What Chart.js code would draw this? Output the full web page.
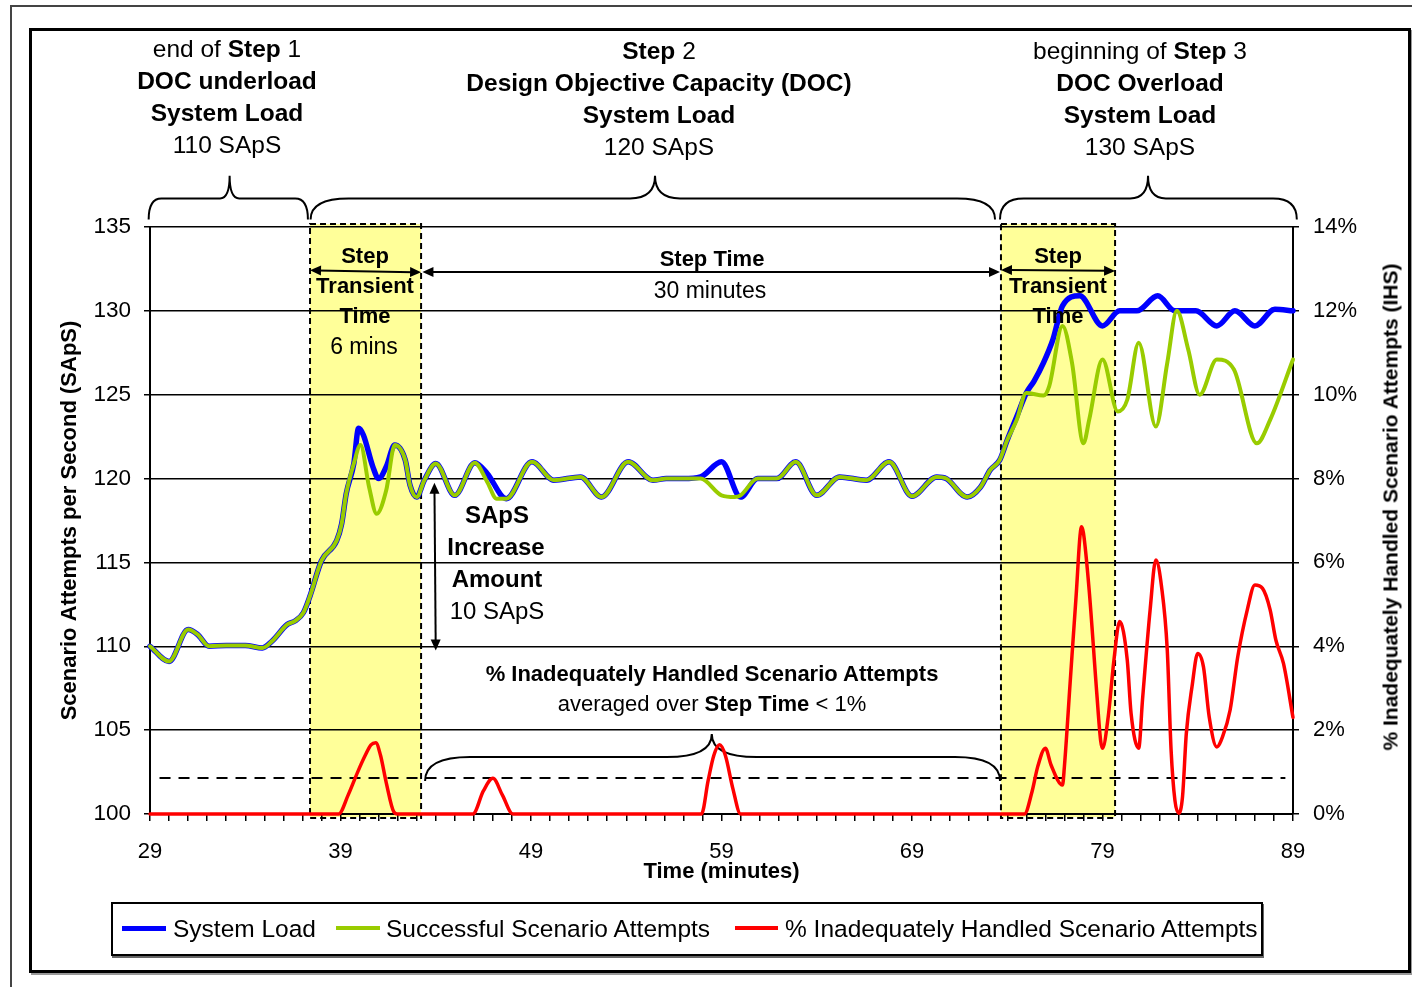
<!DOCTYPE html>
<html>
<head>
<meta charset="utf-8">
<title>Step load chart</title>
<script src="https://cdn.jsdelivr.net/npm/chart.js@4.4.1/dist/chart.umd.min.js"></script>
<style>
html,body{margin:0;padding:0;background:#fff;}
#wrap{position:relative;width:1412px;height:987px;overflow:hidden;font-family:"Liberation Sans",Arial,Helvetica,sans-serif;color:#000;}
#outer{position:absolute;left:10px;top:5px;width:1500px;height:1100px;border-left:2px solid #444;border-top:2px solid #444;}
#inner{position:absolute;left:29px;top:28px;width:1382px;height:945px;box-sizing:border-box;border:3px solid #000;box-shadow:2px 2px 0 #999;}
#chart{position:absolute;left:0;top:0;}
.t{position:absolute;transform:translate(-50%,-50%);white-space:nowrap;line-height:1;}
.b{font-weight:bold;}
#legend{position:absolute;left:111px;top:902px;width:1152px;height:54px;box-sizing:border-box;border:2px solid #000;box-shadow:1px 2px 0 #666;background:#fff;}
.sw{position:absolute;height:5px;}
.lt{position:absolute;font-size:24.5px;line-height:1;transform:translateY(-50%);white-space:nowrap;}
#ytitle2{position:absolute;left:1390px;top:507px;transform:translate(-50%,-50%) rotate(-90deg);font-weight:bold;font-size:21px;white-space:nowrap;line-height:1;}
</style>
</head>
<body>
<div id="wrap">
  <div id="outer"></div>
  <div id="inner"></div>
  <canvas id="chart" width="1412" height="987"></canvas>

  <div class="t" style="left:227px;top:49px;font-size:24.5px">end of <b>Step</b> 1</div>
  <div class="t b" style="left:227px;top:81px;font-size:24.5px">DOC underload</div>
  <div class="t b" style="left:227px;top:113px;font-size:24.5px">System Load</div>
  <div class="t" style="left:227px;top:145px;font-size:24.5px">110 SApS</div>

  <div class="t" style="left:659px;top:51px;font-size:24.5px"><b>Step</b> 2</div>
  <div class="t b" style="left:659px;top:83px;font-size:24.5px">Design Objective Capacity (DOC)</div>
  <div class="t b" style="left:659px;top:115px;font-size:24.5px">System Load</div>
  <div class="t" style="left:659px;top:147px;font-size:24.5px">120 SApS</div>

  <div class="t" style="left:1140px;top:51px;font-size:24.5px">beginning of <b>Step</b> 3</div>
  <div class="t b" style="left:1140px;top:83px;font-size:24.5px">DOC Overload</div>
  <div class="t b" style="left:1140px;top:115px;font-size:24.5px">System Load</div>
  <div class="t" style="left:1140px;top:147px;font-size:24.5px">130 SApS</div>

  <div class="t b" style="left:365px;top:256px;font-size:22px">Step</div>
  <div class="t b" style="left:365px;top:286px;font-size:22px">Transient</div>
  <div class="t b" style="left:365px;top:316px;font-size:22px">Time</div>
  <div class="t" style="left:364px;top:346px;font-size:23px">6 mins</div>

  <div class="t b" style="left:712px;top:259px;font-size:22px">Step Time</div>
  <div class="t" style="left:710px;top:290px;font-size:23px">30 minutes</div>

  <div class="t b" style="left:1058px;top:256px;font-size:22px">Step</div>
  <div class="t b" style="left:1058px;top:286px;font-size:22px">Transient</div>
  <div class="t b" style="left:1058px;top:316px;font-size:22px">Time</div>

  <div class="t b" style="left:497px;top:515px;font-size:24px">SApS</div>
  <div class="t b" style="left:496px;top:547px;font-size:24px">Increase</div>
  <div class="t b" style="left:497px;top:579px;font-size:24px">Amount</div>
  <div class="t" style="left:497px;top:611px;font-size:24px">10 SApS</div>

  <div class="t b" style="left:712px;top:674px;font-size:22px">% Inadequately Handled Scenario Attempts</div>
  <div class="t" style="left:712px;top:704px;font-size:22px">averaged over <b>Step Time</b> &lt; 1%</div>

  <div id="ytitle2">% Inadequately Handled Scenario Attempts (IHS)</div>

  <div id="legend"></div>
  <div class="sw" style="left:122px;top:926px;width:44px;background:#0000FF"></div>
  <div class="lt" style="left:173px;top:929px">System Load</div>
  <div class="sw" style="left:336px;top:926px;width:44px;height:4px;background:#99CC00"></div>
  <div class="lt" style="left:386px;top:929px">Successful Scenario Attempts</div>
  <div class="sw" style="left:735px;top:926px;width:43px;height:4px;background:#FF0000"></div>
  <div class="lt" style="left:785px;top:929px">% Inadequately Handled Scenario Attempts</div>
</div>

<script>
// ---------------- data ----------------
const loadMinutes = [29, 30, 31, 31.5, 32.1, 33, 34, 34.9, 35.4, 36.2, 36.6, 37.05, 37.4, 38.0, 38.8, 39.06, 39.3, 39.7, 39.95, 40.2, 40.7, 41.0, 41.4, 41.85, 42.4, 42.65, 43.0, 43.4, 44.0, 45.0, 46.05, 46.7, 47.7, 49.05, 50.2, 51.6, 52.7, 54.1, 55.4, 56.1, 57.0, 57.9, 59.0, 60.0, 60.9, 61.9, 62.9, 64.0, 65.2, 66.6, 67.8, 69.0, 70.3, 70.8, 71.9, 72.6, 73.1, 73.6, 74.0, 74.5, 75.0, 75.4, 75.9, 76.4, 76.9, 77.8, 79.0, 79.9, 80.8, 81.9, 82.8, 83.9, 85.0, 85.95, 87.0, 88.05, 89.0];
const loadValues = [110, 109.1, 111.0, 110.7, 110.0, 110.05, 110.05, 109.9, 110.3, 111.3, 111.5, 112.0, 113.0, 115.1, 116.3, 117.3, 119.1, 120.9, 123.0, 122.6, 120.7, 120.0, 120.7, 122.0, 121.1, 119.6, 118.9, 119.9, 120.9, 119.0, 120.95, 120.3, 118.8, 121.0, 119.9, 120.1, 118.9, 121.0, 119.9, 120.0, 120.0, 120.1, 121.0, 118.9, 120.0, 120.0, 121.0, 119.0, 120.1, 119.9, 121.0, 118.95, 120.1, 120.0, 118.9, 119.5, 120.5, 121.1, 122.3, 123.7, 125.1, 125.8, 126.9, 128.3, 130.3, 130.9, 129.1, 130.0, 130.0, 130.9, 130.0, 130.0, 129.1, 130.0, 129.1, 130.1, 130.0];

const succMinutes = [29, 30, 31, 31.5, 32.1, 33, 34, 34.9, 35.4, 36.2, 36.6, 37.05, 37.4, 38.0, 38.8, 39.06, 39.3, 39.7, 40.05, 40.5, 40.9, 41.4, 41.85, 42.4, 42.65, 43.0, 43.4, 44.0, 45.0, 46.05, 46.7, 47.2, 47.7, 49.05, 50.2, 51.6, 52.7, 54.1, 55.4, 56.1, 57.0, 57.9, 59.0, 59.7, 60.0, 60.9, 61.9, 62.9, 64.0, 65.2, 66.6, 67.8, 69.0, 70.3, 70.8, 71.9, 72.6, 73.1, 73.6, 74.0, 74.5, 75.0, 75.9, 76.2, 76.9, 77.4, 78.0, 78.3, 79.0, 79.8, 80.3, 80.9, 81.8, 82.4, 82.9, 83.5, 84.1, 85.0, 85.9, 87.1, 87.8, 89.0];
const succValues = [110, 109.1, 111.0, 110.7, 110.0, 110.05, 110.05, 109.9, 110.3, 111.3, 111.5, 112.0, 113.0, 115.1, 116.3, 117.3, 119.1, 120.9, 122.0, 119.5, 117.9, 119.3, 122.0, 121.1, 119.6, 118.9, 119.9, 120.9, 119.0, 120.95, 119.8, 118.8, 118.8, 121.0, 119.9, 120.1, 118.9, 121.0, 119.9, 120.0, 120.0, 120.0, 119.0, 118.9, 119.0, 120.0, 120.0, 121.0, 119.0, 120.1, 119.9, 121.0, 118.95, 120.1, 120.0, 118.9, 119.5, 120.5, 121.1, 122.3, 123.5, 125.1, 124.95, 125.5, 129.1, 126.9, 122.1, 123.5, 127.1, 124.0, 124.7, 128.1, 123.1, 126.9, 130.0, 127.7, 125.0, 127.1, 126.5, 122.1, 123.5, 127.1];

const ihsMinutes = [29, 38.9, 39.4, 39.9, 40.3, 40.6, 40.85, 41.1, 41.4, 41.8, 42.0, 45.95, 46.5, 47.0, 47.5, 48.05, 57.95, 58.3, 58.6, 58.9, 59.2, 59.6, 60.0, 74.9, 75.3, 75.6, 76.0, 76.3, 76.9, 77.0, 77.3, 77.6, 77.9, 78.0, 78.3, 78.7, 78.9, 79.0, 79.3, 79.6, 79.9, 80.3, 80.5, 80.9, 81.1, 81.5, 81.8, 82.1, 82.4, 82.6, 82.8, 83.0, 83.2, 83.4, 83.7, 84.0, 84.3, 84.6, 85.0, 85.3, 85.7, 86.1, 86.6, 87.0, 87.4, 87.8, 88.1, 88.5, 89.0];
const ihsValues = [0, 0, 0.45, 1.0, 1.4, 1.65, 1.7, 1.4, 0.75, 0.05, 0, 0, 0.55, 0.85, 0.45, 0, 0, 0.8, 1.4, 1.65, 1.4, 0.6, 0, 0, 0.53, 1.13, 1.57, 1.17, 0.69, 1.13, 3.12, 5.1, 6.85, 6.7, 5.34, 2.88, 1.76, 1.57, 2.32, 3.67, 4.59, 3.67, 2.4, 1.57, 2.72, 4.87, 6.06, 5.42, 3.91, 1.53, 0.33, 0.02, 0.41, 1.92, 3.04, 3.83, 3.51, 2.32, 1.6, 1.84, 2.48, 3.75, 4.87, 5.46, 5.38, 4.87, 4.15, 3.59, 2.3];

const xTickLabels = [29, 39, 49, 59, 69, 79, 89];
const leftTickValues = [100, 105, 110, 115, 120, 125, 130, 135];
const rightTickValues = [0, 2, 4, 6, 8, 10, 12, 14];

// annotation positions in data units (minutes / SApS / %)
const transientWindows = [[37.4, 43.23], [73.67, 79.66]];
const ihsReferenceLevel = 0.86;
const stepBraces = [
  {from: 28.93, to: 37.29, tip: 33.18},
  {from: 37.43, to: 73.36, tip: 55.51},
  {from: 73.62, to: 89.2, tip: 81.39}
];
const stepTimeBrace = {from: 43.44, to: 73.62, tip: 58.49};

// ---------------- chart ----------------
const FONT = '"Liberation Sans", Arial, Helvetica, sans-serif';
const toXY = (xs, ys) => xs.map((x, i) => ({x: x, y: ys[i]}));

function headAt(ctx, x, y, ang, len, half) {
  const c = Math.cos(ang), s = Math.sin(ang);
  ctx.beginPath();
  ctx.moveTo(x, y);
  ctx.lineTo(x - len * c + half * s, y - len * s - half * c);
  ctx.lineTo(x - len * c - half * s, y - len * s + half * c);
  ctx.closePath();
  ctx.fill();
}
function drawArrow(ctx, xa, ya, xb, yb) {
  const len = 11, half = 5;
  const ang = Math.atan2(yb - ya, xb - xa);
  ctx.beginPath();
  ctx.moveTo(xa + Math.cos(ang) * len * 0.7, ya + Math.sin(ang) * len * 0.7);
  ctx.lineTo(xb - Math.cos(ang) * len * 0.7, yb - Math.sin(ang) * len * 0.7);
  ctx.stroke();
  headAt(ctx, xb, yb, ang, len, half);
  headAt(ctx, xa, ya, ang + Math.PI, len, half);
}
function drawBrace(ctx, x1, x2, xt, yEnd, yMid, yTip, rEnd, rTip) {
  ctx.beginPath();
  ctx.moveTo(x1, yEnd);
  ctx.quadraticCurveTo(x1, yMid, x1 + rEnd, yMid);
  ctx.lineTo(xt - rTip, yMid);
  ctx.quadraticCurveTo(xt, yMid, xt, yTip);
  ctx.quadraticCurveTo(xt, yMid, xt + rTip, yMid);
  ctx.lineTo(x2 - rEnd, yMid);
  ctx.quadraticCurveTo(x2, yMid, x2, yEnd);
  ctx.stroke();
}

const annotations = {
  id: 'stepAnnotations',
  beforeDraw(chart) {
    const {ctx} = chart, x = chart.scales.x, y = chart.scales.y;
    const top = y.getPixelForValue(135) - 3, bot = y.getPixelForValue(100) + 3;
    ctx.save();
    ctx.fillStyle = '#FFFF99';
    transientWindows.forEach(([a, b]) => {
      const xa = x.getPixelForValue(a), xb = x.getPixelForValue(b);
      ctx.fillRect(xa, top, xb - xa, bot - top);
    });
    ctx.restore();
  },
  beforeDatasetsDraw(chart) {
    const {ctx} = chart, x = chart.scales.x, y = chart.scales.y, y2 = chart.scales.y2;
    ctx.save();
    ctx.strokeStyle = '#000';
    ctx.lineWidth = 2;
    ctx.setLineDash([6, 4]);
    const top = y.getPixelForValue(135) - 3, bot = y.getPixelForValue(100) + 4;
    transientWindows.forEach(([a, b]) => {
      const xa = x.getPixelForValue(a), xb = x.getPixelForValue(b);
      ctx.strokeRect(xa, top, xb - xa, bot - top);
    });
    ctx.setLineDash([11, 8]);
    const yr = y2.getPixelForValue(ihsReferenceLevel);
    ctx.beginPath();
    ctx.moveTo(x.getPixelForValue(29.5), yr);
    ctx.lineTo(x.getPixelForValue(88.6), yr);
    ctx.stroke();
    ctx.setLineDash([]);
    ctx.lineWidth = 2;
    stepBraces.forEach(b => {
      const x1 = x.getPixelForValue(b.from), x2 = x.getPixelForValue(b.to), xt = x.getPixelForValue(b.tip);
      const w = x2 - x1;
      drawBrace(ctx, x1, x2, xt, y.getPixelForValue(135.45), y.getPixelForValue(136.7), y.getPixelForValue(138.05),
        Math.min(38, w * 0.08), Math.min(25, w * 0.06));
    });
    drawBrace(ctx, x.getPixelForValue(stepTimeBrace.from), x.getPixelForValue(stepTimeBrace.to), x.getPixelForValue(stepTimeBrace.tip),
      y2.getPixelForValue(0.79), y2.getPixelForValue(1.36), y2.getPixelForValue(1.91), 45, 45);
    ctx.restore();
  },
  afterDatasetsDraw(chart) {
    const {ctx} = chart, x = chart.scales.x, y = chart.scales.y;
    ctx.save();
    ctx.strokeStyle = '#000';
    ctx.fillStyle = '#000';
    ctx.lineWidth = 2;
    drawArrow(ctx, x.getPixelForValue(37.4), y.getPixelForValue(132.42), x.getPixelForValue(43.23), y.getPixelForValue(132.3));
    drawArrow(ctx, x.getPixelForValue(43.3), y.getPixelForValue(132.32), x.getPixelForValue(73.62), y.getPixelForValue(132.32));
    drawArrow(ctx, x.getPixelForValue(73.67), y.getPixelForValue(132.44), x.getPixelForValue(79.66), y.getPixelForValue(132.38));
    drawArrow(ctx, x.getPixelForValue(43.93), y.getPixelForValue(119.75), x.getPixelForValue(44.0), y.getPixelForValue(109.75));
    ctx.restore();
  }
};

new Chart(document.getElementById('chart'), {
  type: 'line',
  data: {
    datasets: [
      {label: '% Inadequately Handled Scenario Attempts', data: toXY(ihsMinutes, ihsValues), yAxisID: 'y2',
        borderColor: '#FF0000', borderWidth: 3.5, order: 1},
      {label: 'Successful Scenario Attempts', data: toXY(succMinutes, succValues), yAxisID: 'y',
        borderColor: '#99CC00', borderWidth: 4, order: 2},
      {label: 'System Load', data: toXY(loadMinutes, loadValues), yAxisID: 'y',
        borderColor: '#0000FF', borderWidth: 5.5, order: 3}
    ]
  },
  options: {
    responsive: false,
    devicePixelRatio: 1,
    animation: false,
    events: [],
    layout: {padding: {top: 227, left: 0, right: 0, bottom: 0}},
    elements: {
      point: {radius: 0},
      line: {cubicInterpolationMode: 'monotone', fill: false, borderCapStyle: 'round', borderJoinStyle: 'round'}
    },
    datasets: {line: {clip: false}},
    plugins: {legend: {display: false}, tooltip: {enabled: false}},
    scales: {
      x: {
        type: 'linear', position: 'bottom', min: 29, max: 89,
        ticks: {stepSize: 1, autoSkip: false, maxRotation: 0, minRotation: 0, color: '#000',
          font: {family: FONT, size: 22}, padding: 18,
          callback: (v) => xTickLabels.includes(v) ? String(v) : ''},
        grid: {drawOnChartArea: false, drawTicks: true, tickLength: 7, color: '#000', lineWidth: 1.5},
        border: {display: true, color: '#000', width: 2},
        title: {display: true, text: 'Time (minutes)', color: '#000',
          font: {family: FONT, size: 22, weight: 'bold'}, padding: {top: 0, bottom: 102}},
        afterFit(s) { s.height = 173; }
      },
      y: {
        type: 'linear', position: 'left', min: 100, max: 135,
        afterBuildTicks(s) { s.ticks = leftTickValues.map(v => ({value: v})); },
        ticks: {color: '#000', font: {family: FONT, size: 22.5}, padding: 13},
        grid: {color: '#000', lineWidth: 1.5, drawTicks: true, tickLength: 6},
        border: {display: true, color: '#000', width: 2},
        title: {display: true, text: 'Scenario Attempts per Second (SApS)', color: '#000',
          font: {family: FONT, size: 22, weight: 'bold'}, padding: {top: 57, bottom: 0}},
        afterFit(s) { s.width = 150; }
      },
      y2: {
        type: 'linear', position: 'right', min: 0, max: 14,
        afterBuildTicks(s) { s.ticks = rightTickValues.map(v => ({value: v})); },
        ticks: {color: '#000', font: {family: FONT, size: 22}, padding: 14, callback: (v) => v + '%'},
        grid: {drawOnChartArea: false, drawTicks: true, tickLength: 6, color: '#000', lineWidth: 1.5},
        border: {display: true, color: '#000', width: 2},
        afterFit(s) { s.width = 119; }
      }
    }
  },
  plugins: [annotations]
});
</script>
</body>
</html>
